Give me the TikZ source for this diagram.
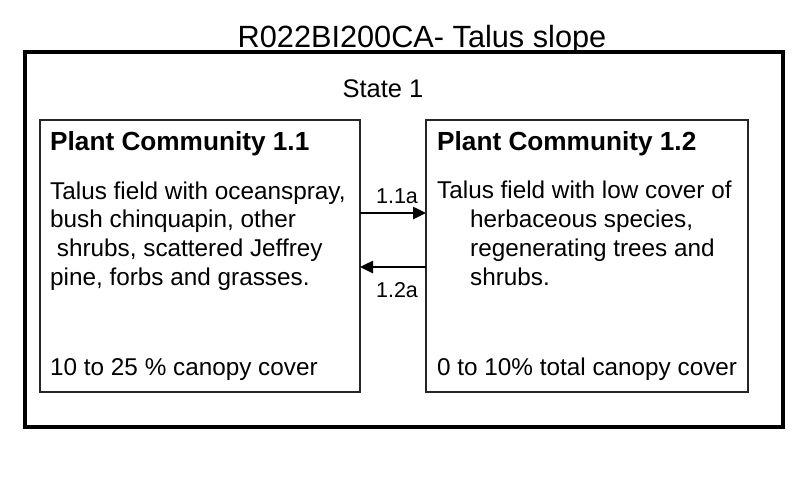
\documentclass[tikz,border=0pt]{standalone}
\usepackage{fontspec}
\setmainfont{Liberation Sans}
\usetikzlibrary{arrows.meta}
\begin{document}
\begin{tikzpicture}[x=1pt,y=-1pt,
  outerbox/.style={draw=black,line width=3.5pt},
  pcbox/.style={draw=black!85,line width=2pt},
  txt/.style={anchor=base west,inner sep=0pt,font=\fontsize{24.3}{27}\selectfont},
  head/.style={anchor=base west,inner sep=0pt,font=\fontsize{26.2}{29}\selectfont\bfseries},
  lbl/.style={anchor=base,inner sep=0pt,font=\fontsize{21.5}{24}\selectfont},
  conn/.style={line width=2.5pt,-{Triangle[length=13pt,width=12pt]}}]
\useasboundingbox (0,0) rectangle (800,480);
\node[anchor=base,inner sep=0pt,font=\fontsize{30.7}{34}\selectfont] (title) at (422,47) {R022BI200CA- Talus slope};
\draw[outerbox] (25,52) rectangle (783,427);
\node[anchor=base,inner sep=0pt,font=\fontsize{25.5}{28}\selectfont] (state) at (383,97) {State 1};
\draw[pcbox] (40,120) rectangle (360,392);
\draw[pcbox] (426,120) rectangle (748,392);
\coordinate (l1) at (360,213); \coordinate (r1) at (426,213);
\coordinate (l2) at (360,267); \coordinate (r2) at (426,267);
\node[head] (h1) at (50,150) {Plant Community 1.1};
\node[txt] (a1) at (50,199) {Talus field with oceanspray,};
\node[txt] (a2) at (50,227.5) {bush chinquapin, other};
\node[txt] (a3) at (50,256) {\ shrubs, scattered Jeffrey};
\node[txt] (a4) at (50,285) {pine, forbs and grasses.};
\node[txt] (a5) at (50,375) {10 to 25 \% canopy cover};
\node[head] (h2) at (437,150) {Plant Community 1.2};
\node[txt] (b1) at (437,198) {Talus field with low cover of};
\node[txt] (b2) at (470,227.5) {herbaceous species,};
\node[txt] (b3) at (470,256) {regenerating trees and};
\node[txt] (b4) at (470,285) {shrubs.};
\node[txt] (b5) at (437,375) {0 to 10\% total canopy cover};
\draw[conn] (l1) -- (r1);
\draw[conn] (r2) -- (l2);
\node[lbl] (t1) at (397,203) {1.1a};
\node[lbl] (t2) at (397,297) {1.2a};
\end{tikzpicture}
\end{document}
